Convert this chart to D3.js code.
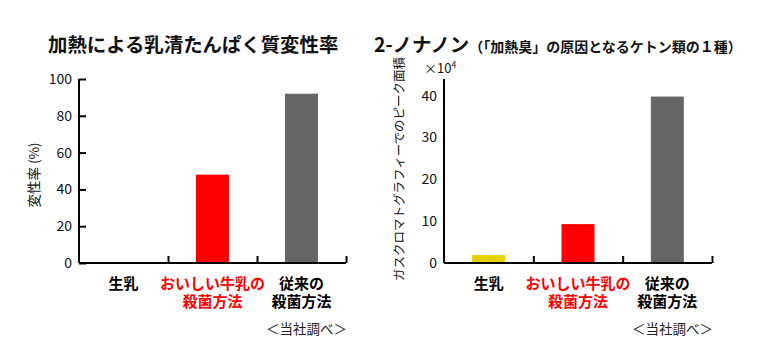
<!DOCTYPE html>
<html><head><meta charset="utf-8">
<script src="https://cdn.jsdelivr.net/npm/d3@7"></script>
<style>
body{margin:0;background:#fff;}
text{font-family:"Noto Sans CJK JP","Noto Sans",sans-serif;}
</style></head>
<body><svg id="c" width="760" height="360"></svg>
<script>
const categories = [["生乳"], ["おいしい牛乳の","殺菌方法"], ["従来の","殺菌方法"]];
const catColors = ["#000", "#ff0000", "#000"];
const barColors = ["#e8cf00", "#ff0000", "#666666"];
const denatureValues = [0, 48, 92];      // %
const nonanoneValues = [1.9, 9.3, 39.8]; // ×10^4
const leftTicks = [0, 20, 40, 60, 80, 100];
const rightTicks = [0, 10, 20, 30, 40];

const svg = d3.select("#c");
const yTop = 79, yBot = 263;

function panel(opts){
  const g = svg.append("g");
  const x = d3.scaleBand().domain(d3.range(3)).range([opts.x0, opts.x1]).paddingInner(0).paddingOuter(0);
  const y = d3.scaleLinear().domain(opts.domain).range([yBot, yTop]);
  const bw = 33;
  g.selectAll("rect").data(opts.values).join("rect")
    .attr("x", (d,i)=>x(i)+x.bandwidth()/2-bw/2)
    .attr("width", bw)
    .attr("y", d=>y(d))
    .attr("height", d=>yBot-y(d))
    .attr("fill", (d,i)=>barColors[i]);
  // y axis
  const ya = d3.axisRight(y).tickValues(opts.ticks).tickSize(opts.showTicks?7:0).tickFormat("");
  const yg = g.append("g").attr("transform", `translate(${opts.x0},0)`).call(ya);
  yg.select(".domain").attr("d", `M0,${yTop}V${yBot}`);
  yg.selectAll("path,line").attr("stroke","#000").attr("stroke-width",2);
  g.selectAll("text.yt").data(opts.ticks).join("text").attr("class","yt")
    .attr("x", opts.x0-7).attr("y", d=>y(d)).attr("dy","0.35em")
    .attr("text-anchor","end").attr("font-size",14).attr("fill","#111").text(d=>d);
  // x axis
  const xa = d3.axisTop(d3.scaleLinear().domain([0,3]).range([opts.x0,opts.x1])).tickValues([1,2,3]).tickSize(7).tickFormat("");
  const xg = g.append("g").attr("transform", `translate(0,${yBot})`).call(xa);
  xg.select(".domain").attr("d", `M${opts.x0},0H${opts.x1}`);
  xg.selectAll("path,line").attr("stroke","#000").attr("stroke-width",2);
  // category labels
  categories.forEach((lines,i)=>{
    const cx = x(i)+x.bandwidth()/2;
    const t = g.append("text").attr("x", cx).attr("y", 289)
      .attr("text-anchor","middle").attr("font-size",15).attr("font-weight","bold")
      .attr("fill", catColors[i]);
    lines.forEach((s,j)=>{
      t.append("tspan").attr("x", cx).attr("dy", j===0?0:18).text(s);
    });
  });
  g.append("text").attr("x", opts.x1+1).attr("y", 334).attr("text-anchor","end")
    .attr("font-size",13.5).attr("fill","#222").text("＜当社調べ＞");
  return {x,y};
}

panel({x0:79, x1:346, domain:[0,100], values:denatureValues, ticks:leftTicks, showTicks:true});
panel({x0:444, x1:712, domain:[0,44], values:nonanoneValues, ticks:rightTicks, showTicks:false});

// titles
svg.append("text").attr("x",48).attr("y",52).attr("font-size",19.4).attr("font-weight","bold")
  .attr("fill","#111").text("加熱による乳清たんぱく質変性率");
const t2 = svg.append("text").attr("x",374).attr("y",52).attr("font-weight","bold").attr("fill","#111");
t2.append("tspan").attr("font-size",19.4).text("2-ノナノン");
t2.append("tspan").attr("font-size",14).attr("dx",0).text("（「加熱臭」の原因となるケトン類の１種）");

// y labels
svg.append("text").attr("transform","translate(39,175) rotate(-90)").attr("text-anchor","middle")
  .attr("font-size",13.5).attr("fill","#111").text("変性率 (%)");
svg.append("text").attr("transform","translate(404,169) rotate(-90)").attr("text-anchor","middle")
  .attr("font-size",12.5).attr("fill","#111").text("ガスクロマトグラフィーでのピーク面積");
const m = svg.append("text").attr("x",424).attr("y",73).attr("font-size",13).attr("fill","#111");
m.append("tspan").text("×10");
m.append("tspan").attr("font-size",8.5).attr("dy",-5).text("4");
</script></body></html>
